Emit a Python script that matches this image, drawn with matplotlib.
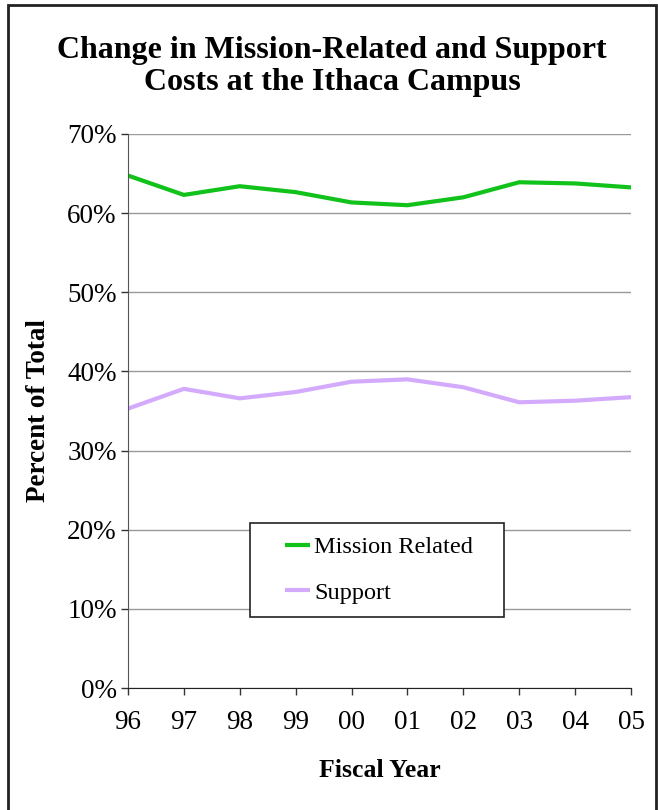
import matplotlib.pyplot as plt
from matplotlib.patches import Rectangle
from matplotlib.ticker import FuncFormatter

years = ['96', '97', '98', '99', '00', '01', '02', '03', '04', '05']
mission = [64.75, 62.3, 63.4, 62.65, 61.35, 61.0, 62.0, 63.9, 63.75, 63.25]
support = [35.3, 37.8, 36.6, 37.4, 38.7, 39.0, 38.0, 36.1, 36.3, 36.75]

plt.rcParams['font.family'] = ['Liberation Serif', 'DejaVu Serif']

fig = plt.figure(figsize=(6.58, 8.10), dpi=100)
ax = fig.add_axes([0.1945, 0.1506, 0.7645, 0.684])

x = list(range(len(years)))
ax.plot(x, mission, color='#11c21b', lw=3, label='Mission Related', solid_capstyle='butt')
ax.plot(x, support, color='#d4aafc', lw=3, label='Support', solid_capstyle='butt')

ax.set_xlim(0, len(years) - 1)
ax.set_ylim(0, 70)
ax.set_yticks(range(0, 71, 10))
ax.yaxis.set_major_formatter(FuncFormatter(lambda v, p: f'{int(v)}%'))
ax.set_xticks(x)
ax.set_xticklabels(years)
ax.tick_params(axis='both', labelsize=19.5, direction='out', length=5, width=1, color='#333333')
ax.tick_params(axis='x', pad=11)
ax.tick_params(axis='y', pad=3)

ax.grid(axis='y', color='#999999', lw=1)
ax.set_axisbelow(True)
for s in ['top', 'right']:
    ax.spines[s].set_visible(False)
ax.spines['left'].set_color('#555555')
ax.spines['bottom'].set_color('#222222')

ax.set_ylabel('Percent of Total', fontsize=19.5, fontweight='bold', labelpad=12)
ax.set_xlabel('Fiscal Year', fontsize=18.5, fontweight='bold', labelpad=17)

fig.text(0.505, 0.918, 'Change in Mission-Related and Support\nCosts at the Ithaca Campus',
         ha='center', va='center', fontsize=23, fontweight='bold', linespacing=1.15)

# legend without its own frame, box drawn separately
leg = ax.legend(loc='center left', bbox_to_anchor=(0.312, 0.213), fontsize=17.5,
                frameon=False, handlelength=1.05, handletextpad=0.15,
                labelspacing=0.95, borderpad=0, borderaxespad=0)
ax.add_patch(Rectangle((0.2425, 0.128), 0.505, 0.17, transform=ax.transAxes,
                       fill=True, facecolor='white', edgecolor='#222222', lw=1.2, zorder=4))
leg.set_zorder(5)

fig.patches.append(Rectangle((8 / 658, -0.01), 648 / 658, 1.01 - 5 / 810,
                             transform=fig.transFigure, fill=False,
                             edgecolor='#222222', lw=2))

fig.savefig('out.png', dpi=100)
